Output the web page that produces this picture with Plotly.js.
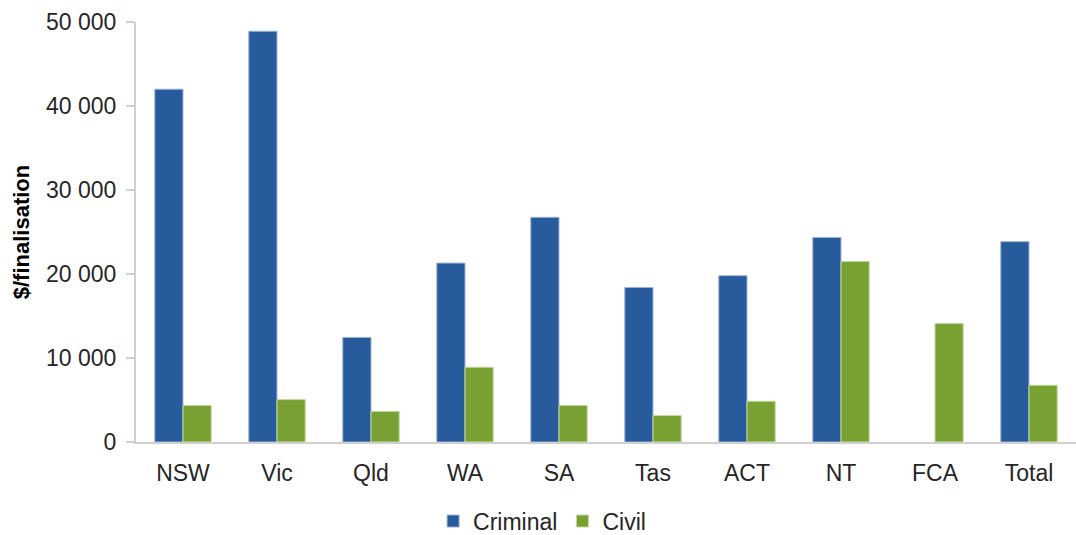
<!DOCTYPE html>
<html>
<head>
<meta charset="utf-8">
<script src="https://cdn.plot.ly/plotly-3.0.1.min.js"></script>
<style>
  html, body { margin: 0; padding: 0; background: #ffffff; }
  #chart { width: 1076px; height: 535px; }
</style>
</head>
<body>
<div id="chart"></div>
<script>
// Cost per finalisation by jurisdiction
const categories = ['NSW', 'Vic', 'Qld', 'WA', 'SA', 'Tas', 'ACT', 'NT', 'FCA', 'Total'];
const criminal = [42000, 48900, 12450, 21300, 26750, 18400, 19800, 24350, null, 23850];
const civil = [4350, 5050, 3650, 8900, 4350, 3150, 4850, 21500, 14100, 6750];
const yTicks = [0, 10000, 20000, 30000, 40000, 50000];

const fontFamily = 'Liberation Sans, Arial, sans-serif';
const textColor = '#262626';

const traces = [
  {
    type: 'bar', name: 'Criminal', x: categories, y: criminal,
    marker: { color: '#275B9B', line: { color: '#9DB3D6', width: 1 } }
  },
  {
    type: 'bar', name: 'Civil', x: categories, y: civil,
    marker: { color: '#78A032', line: { color: '#C4DA9C', width: 1 } }
  }
];

const layout = {
  width: 1076, height: 535,
  margin: { l: 136, r: 0, t: 22, b: 93 },
  paper_bgcolor: '#ffffff', plot_bgcolor: '#ffffff',
  separators: '. ',
  barmode: 'group', bargap: 0.4, bargroupgap: 0,
  font: { family: fontFamily, size: 23, color: textColor },
  showlegend: true,
  legend: {
    orientation: 'h', xref: 'paper', x: 0.432, xanchor: 'center',
    yref: 'container', y: 0.026, yanchor: 'middle',
    font: { family: fontFamily, size: 23, color: textColor },
    itemwidth: 30, traceorder: 'normal', bgcolor: 'rgba(0,0,0,0)'
  },
  xaxis: {
    type: 'category', showline: true, linecolor: '#D0D0D0', linewidth: 2,
    ticks: '', showgrid: false, zeroline: false,
    tickfont: { family: fontFamily, size: 23, color: textColor },
    ticklabelstandoff: 9,
    automargin: false
  },
  yaxis: {
    range: [0, 50000], tickvals: yTicks, tickformat: ',d',
    showline: true, linecolor: '#D0D0D0', linewidth: 2,
    ticks: 'outside', ticklen: 8, tickwidth: 2, tickcolor: '#D0D0D0',
    showgrid: false, zeroline: false,
    tickfont: { family: fontFamily, size: 23, color: textColor },
    ticklabelstandoff: 5,
    title: { text: '$/finalisation', font: { family: fontFamily, size: 22, color: '#000000', weight: 'bold' }, standoff: 10 },
    automargin: false
  }
};

Plotly.newPlot('chart', traces, layout, { displayModeBar: false, staticPlot: true });
</script>
</body>
</html>
